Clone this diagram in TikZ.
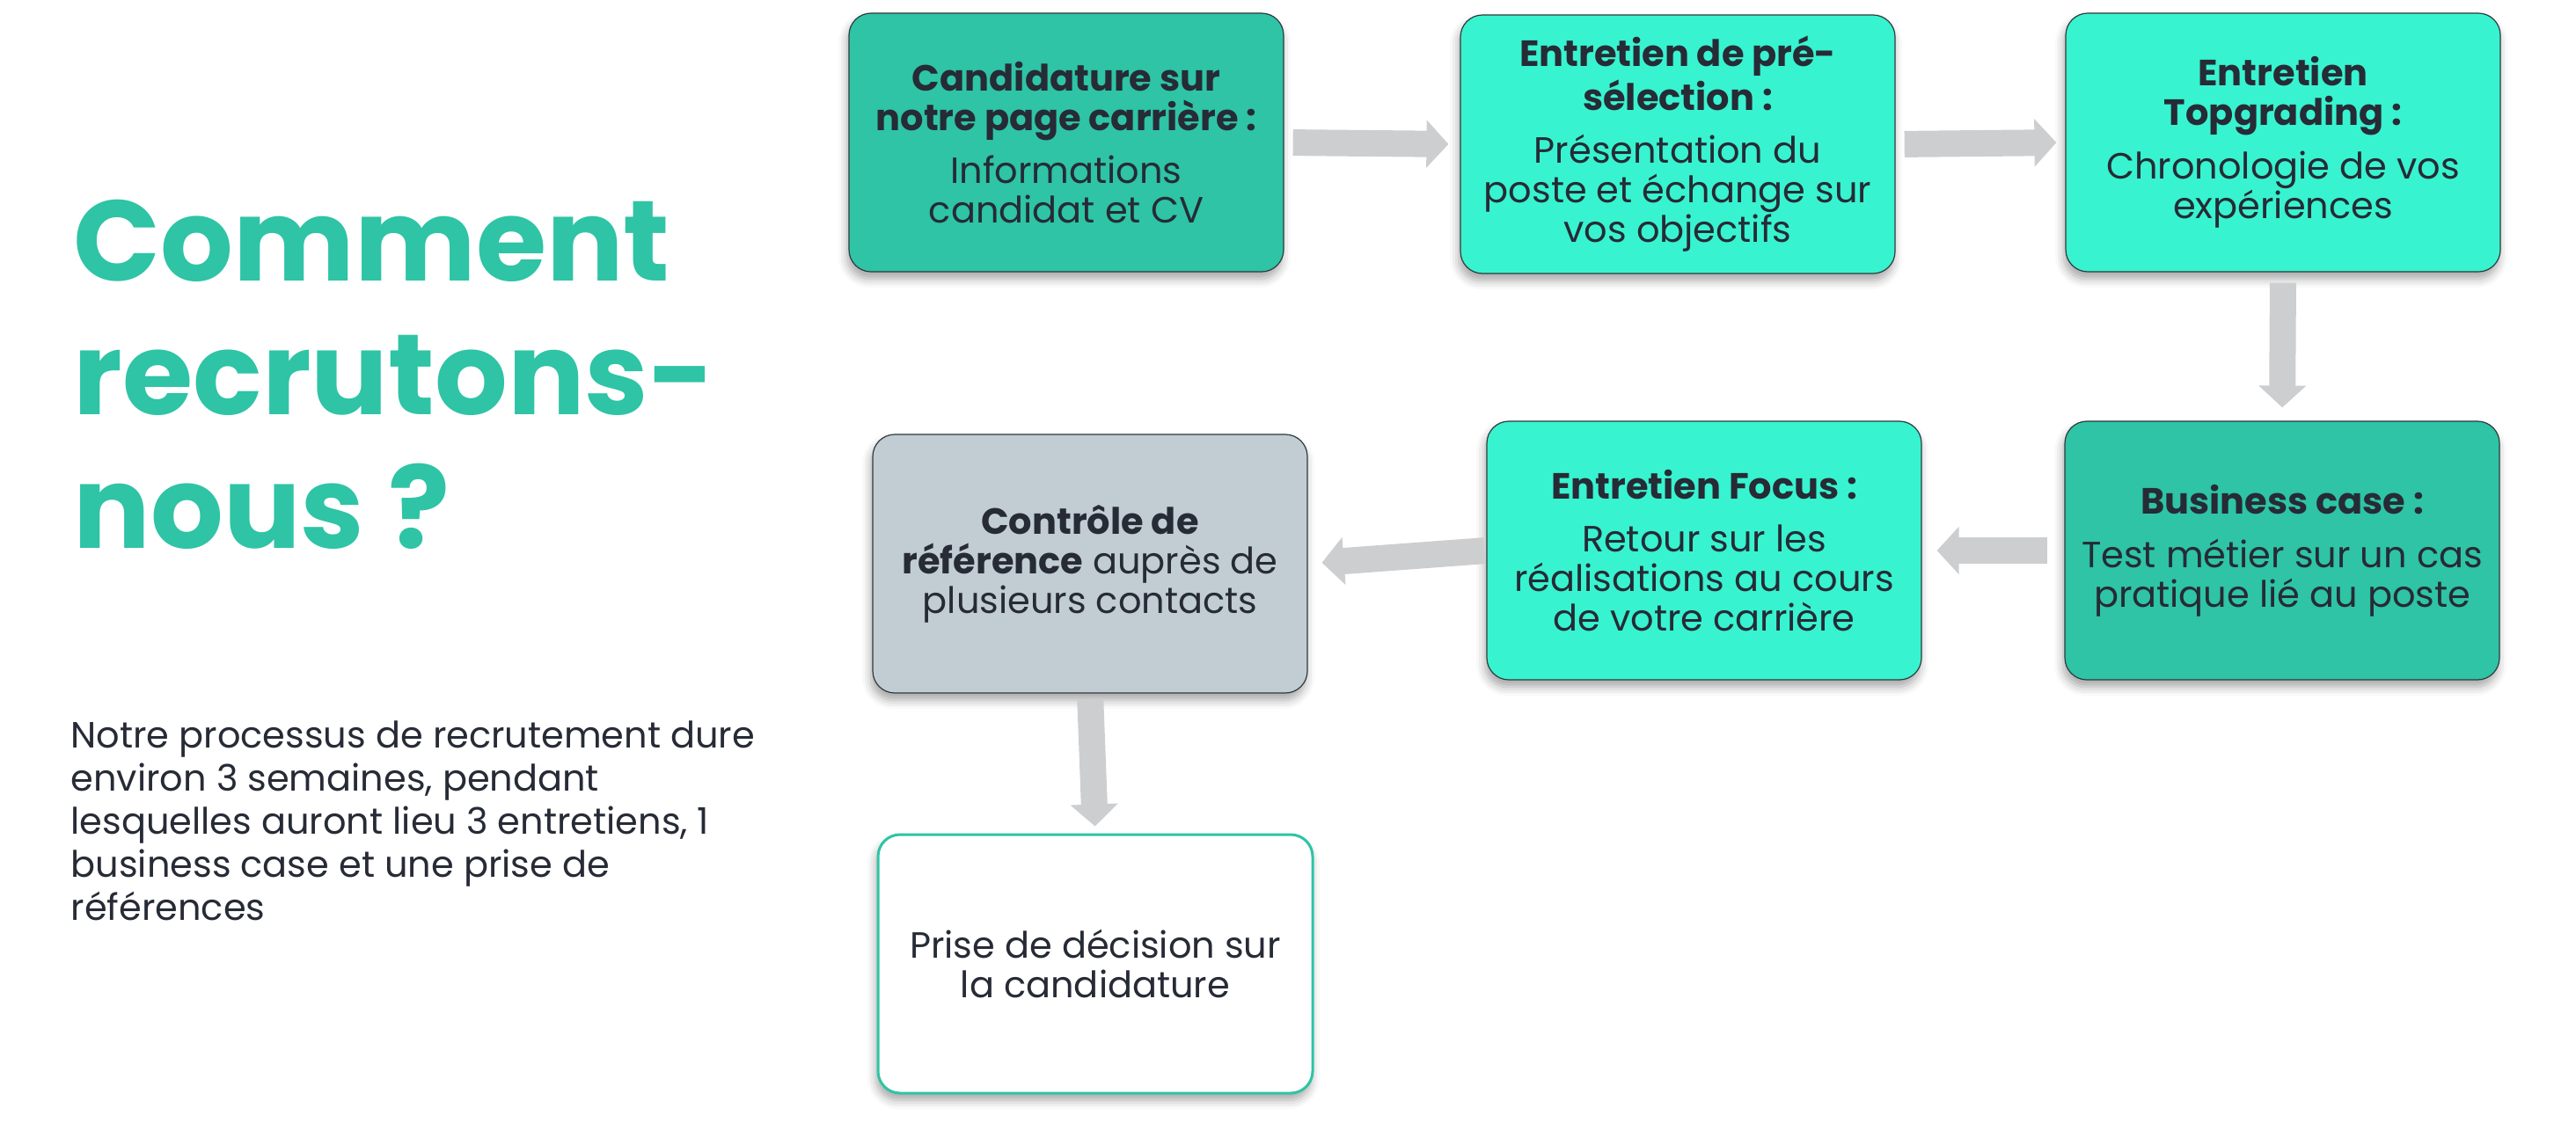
\documentclass[tikz,border=0pt]{standalone}
\usepackage{fontspec}
\setmainfont{Poppins}
\usetikzlibrary{arrows.meta,shadows.blur}
\definecolor{tealdark}{HTML}{2EC4A5}
\definecolor{aqua}{HTML}{38F3CF}
\definecolor{slate}{HTML}{C1CCD3}
\definecolor{ink}{HTML}{262B36}
\definecolor{edgeink}{HTML}{2F3B3D}
\definecolor{arrowgray}{HTML}{CDCECF}
\begin{document}
\begin{tikzpicture}[
  stepbox/.style={draw=edgeink, line width=0.012cm, rounded corners=0.25cm,
    minimum width=4.94cm, minimum height=2.94cm, align=center, text=ink,
    font=\fontsize{11.8}{12.8}\selectfont,
    blur shadow={shadow xshift=-0.02cm, shadow yshift=-0.08cm, shadow blur radius=0.1cm, shadow opacity=35}},
  flow/.style={draw=arrowgray, line width=0.30cm, -{Triangle[length=0.25cm, width=0.53cm]}}
]
\useasboundingbox (0,0) rectangle (29.28,-13.01);
% left column (base = last line)
\node[anchor=base west, align=left, inner sep=0pt, text=tealdark,
  font=\fontsize{37}{43.2}\selectfont\bfseries] (title) at (0.83,-6.23)
  {Comment\\recrutons-\\nous ?};
\node[anchor=base west, align=left, inner sep=0pt, text=ink,
  font=\fontsize{11.8}{13.9}\selectfont] (intro) at (0.80,-10.46)
  {Notre processus de recrutement dure\\environ 3 semaines, pendant\\lesquelles auront lieu 3 entretiens, 1\\business case et une prise de\\références};
% steps
\node[stepbox, fill=tealdark] (a) at (12.12,-1.62)
  {\textbf{Candidature sur}\\\textbf{notre page carrière :}\\[4.5pt]Informations\\candidat et CV};
\node[stepbox, fill=aqua] (b) at (19.07,-1.64)
  {\textbf{Entretien de pré-}\\\textbf{sélection :}\\[4.5pt]Présentation du\\poste et échange sur\\vos objectifs};
\node[stepbox, fill=aqua] (c) at (25.95,-1.62)
  {\textbf{Entretien}\\\textbf{Topgrading :}\\[4.5pt]Chronologie de vos\\expériences};
\node[stepbox, fill=tealdark] (d) at (25.94,-6.26)
  {\textbf{Business case :}\\[4.5pt]Test métier sur un cas\\pratique lié au poste};
\node[stepbox, fill=aqua] (e) at (19.37,-6.26)
  {\textbf{Entretien Focus :}\\[4.5pt]Retour sur les\\réalisations au cours\\de votre carrière};
\node[stepbox, fill=slate] (f) at (12.39,-6.41)
  {\textbf{Contrôle de}\\\textbf{référence} auprès de\\plusieurs contacts};
\node[stepbox, fill=white, draw=tealdark, line width=0.03cm] (g) at (12.45,-10.96)
  {Prise de décision sur\\la candidature};
% connectors
\draw[flow, shorten <=0.10cm, shorten >=0.13cm] (a.east) -- (b.west);
\draw[flow, shorten <=0.10cm, shorten >=0.10cm] (b.east) -- (c.west);
\draw[flow, shorten <=0.12cm, shorten >=0.15cm] (c.south) -- (d.north);
\draw[flow, shorten <=0.19cm, shorten >=0.17cm] (d.west) -- (e.east);
\draw[flow, shorten <=0.02cm, shorten >=0.16cm] (e.west) -- (f.east);
\draw[flow, shorten <=0.06cm, shorten >=0.08cm] (f.south) -- (g.north);
\end{tikzpicture}
\end{document}
